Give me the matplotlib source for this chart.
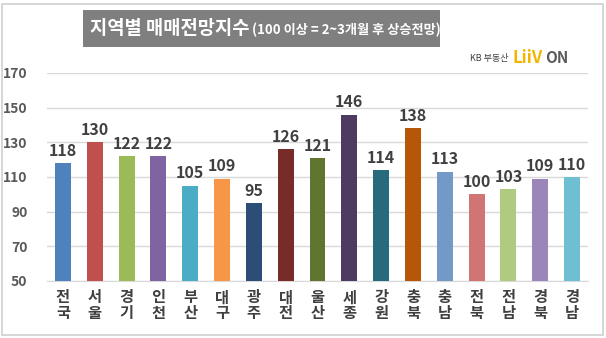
import matplotlib
matplotlib.use("Agg")
import matplotlib.pyplot as plt
from matplotlib.patches import Rectangle

plt.rcParams['font.family'] = ['Noto Sans CJK KR', 'DejaVu Sans']

regions = ["전국", "서울", "경기", "인천", "부산", "대구", "광주", "대전", "울산",
           "세종", "강원", "충북", "충남", "전북", "전남", "경북", "경남"]
values = [118, 130, 122, 122, 105, 109, 95, 126, 121, 146, 114, 138, 113, 100, 103, 109, 110]
colors = ["#4F81BD", "#C0504D", "#9BBB59", "#8064A2", "#4BACC6", "#F79646", "#2C4D75",
          "#772C2A", "#5F7530", "#4D3B62", "#276A7C", "#B65708", "#7399C6", "#D07573",
          "#AFCB7F", "#9A86B8", "#6FBFD3"]
yticks = [50, 70, 90, 110, 130, 150, 170]

W, H = 606, 338
fig = plt.figure(figsize=(W / 100, H / 100), dpi=100)
fig.patch.set_facecolor("white")

# outer border
fig.add_artist(Rectangle((2 / W, 3 / H), 601 / W, 331 / H, transform=fig.transFigure,
                         fill=False, edgecolor="#D0D0D0", linewidth=1.2))

ax = fig.add_axes([47 / W, (H - 281) / H, (588 - 47) / W, (281 - 73) / H])
x = range(len(regions))
ax.bar(x, values, width=0.5, color=colors, zorder=3)
ax.set_ylim(50, 170)
ax.set_xlim(-0.5, len(regions) - 0.5)
ax.set_yticks(yticks)
ax.set_yticklabels([str(t) for t in yticks], fontsize=10, fontweight="bold", color="#595959")
ax.set_xticks(list(x))
ax.set_xticklabels(["\n".join(r) for r in regions], fontsize=11, fontweight="bold",
                   color="#404040", linespacing=1.0)
ax.tick_params(axis="both", length=0)
ax.tick_params(axis="y", pad=14)
ax.tick_params(axis="x", pad=6)
ax.grid(axis="y", color="#D9D9D9", linewidth=1, zorder=0)
for s in ["top", "right", "left"]:
    ax.spines[s].set_visible(False)
ax.spines["bottom"].set_color("#D9D9D9")
for i, v in enumerate(values):
    ax.text(i, v + 2.5, str(v), ha="center", va="bottom", fontsize=11.5,
            fontweight="bold", color="#404040")

# title box
fig.add_artist(Rectangle((83 / W, (H - 47) / H), (440 - 83) / W, 37 / H,
                         transform=fig.transFigure, facecolor="#7F7F7F", edgecolor="none"))
t1 = fig.text(90 / W, (H - 29) / H, "지역별 매매전망지수", fontsize=13.5, fontweight="bold",
              color="white", va="center", ha="left")
fig.canvas.draw()
bb = t1.get_window_extent()
fig.text((bb.x1 + 3) / W, (H - 30) / H, "(100 이상 = 2~3개월 후 상승전망)", fontsize=9.5,
         fontweight="bold", color="white", va="center", ha="left")

# logo
fig.text(470 / W, (H - 58) / H, "KB 부동산", fontsize=6.5, color="#404040", va="center", ha="left")
fig.text(512 / W, (H - 58) / H, "LiiV", fontsize=12, fontweight="bold", color="#F2B600",
         va="center", ha="left")
fig.text(545 / W, (H - 58) / H, "ON", fontsize=11, fontweight="bold", color="#5A5A5A",
         va="center", ha="left")

fig.savefig("out.png", dpi=100, facecolor="white")
